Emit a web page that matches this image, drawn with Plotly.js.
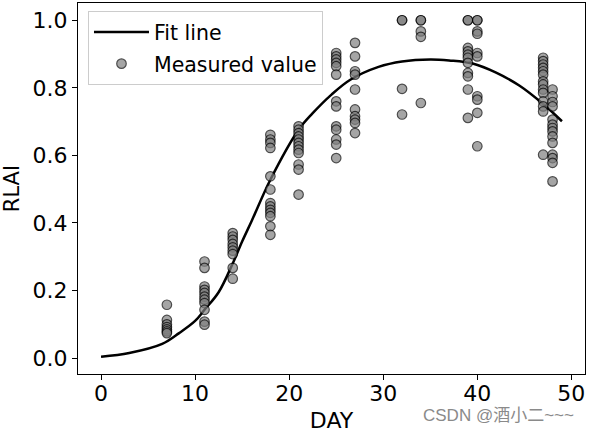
<!DOCTYPE html>
<html>
<head>
<meta charset="utf-8">
<script src="https://cdn.plot.ly/plotly-3.0.1.min.js"></script>
<style>html,body{margin:0;padding:0;background:#fff;}#chart{width:589px;height:433px;}</style>
</head>
<body>
<div id="chart"></div>
<script>
// Fit line
const fitDay  = [0, 3, 6.5, 8.3, 10, 11, 12.5, 14, 15, 16, 18, 21, 22.5, 24.5, 26.5, 29.5, 32, 35, 37, 39.5, 42, 44.5, 47, 49];
const fitRLAI = [0.004, 0.015, 0.042, 0.074, 0.11, 0.143, 0.195, 0.28, 0.345, 0.405, 0.528, 0.676, 0.725, 0.78, 0.824, 0.862, 0.878, 0.884, 0.881, 0.872, 0.845, 0.806, 0.752, 0.701];

// Measured values per day
const measuredDays = [7, 11, 14, 18, 21, 25, 27, 32, 34, 39, 40, 47, 48];
const day7  = [0.158, 0.113, 0.100, 0.092, 0.085, 0.079, 0.074];
const day11 = [0.286, 0.267, 0.212, 0.202, 0.193, 0.182, 0.173, 0.163, 0.143, 0.108, 0.099];
const day14 = [0.370, 0.360, 0.350, 0.338, 0.328, 0.318, 0.308, 0.267, 0.235];
const day18 = [0.661, 0.647, 0.637, 0.622, 0.538, 0.499, 0.459, 0.449, 0.439, 0.430, 0.420, 0.390, 0.365];
const day21 = [0.686, 0.676, 0.666, 0.656, 0.647, 0.637, 0.627, 0.617, 0.607, 0.573, 0.558, 0.484];
const day25 = [0.903, 0.893, 0.884, 0.874, 0.864, 0.839, 0.760, 0.745, 0.686, 0.676, 0.647, 0.632, 0.592];
const day27 = [0.933, 0.893, 0.849, 0.839, 0.795, 0.736, 0.716, 0.706, 0.696, 0.666];
const day32 = [1.0, 1.0, 0.797, 0.721];
const day34 = [1.0, 1.0, 0.967, 0.951, 0.755];
const day39 = [1.0, 1.0, 0.918, 0.908, 0.898, 0.889, 0.874, 0.844, 0.834, 0.795, 0.711];
const day40 = [1.0, 1.0, 0.967, 0.960, 0.903, 0.893, 0.775, 0.765, 0.726, 0.627];
const day47 = [0.889, 0.879, 0.869, 0.859, 0.849, 0.839, 0.819, 0.810, 0.795, 0.785, 0.760, 0.745, 0.730, 0.602];
const day48 = [0.795, 0.775, 0.758, 0.745, 0.706, 0.691, 0.681, 0.671, 0.656, 0.637, 0.602, 0.592, 0.578, 0.523];
const measuredByDay = [day7, day11, day14, day18, day21, day25, day27, day32, day34, day39, day40, day47, day48];

const xTicks = [0, 10, 20, 30, 40, 50];
const yTicks = [0.0, 0.2, 0.4, 0.6, 0.8, 1.0];
const yTickText = ['0.0', '0.2', '0.4', '0.6', '0.8', '1.0'];

const mx = [], my = [];
measuredDays.forEach((d, i) => {
  measuredByDay[i].forEach(v => { mx.push(d); my.push(v); });
});

const FONT = 'DejaVu Sans, Liberation Sans, sans-serif';

const traces = [
  {
    x: fitDay, y: fitRLAI, type: 'scatter', mode: 'lines', name: 'Fit line',
    line: {color: '#000', width: 2.5, shape: 'spline', smoothing: 1},
    legendgroup: 'a'
  },
  {
    x: mx, y: my, type: 'scatter', mode: 'markers', name: 'Measured value',
    marker: {size: 9.5, color: 'rgb(128,128,128)', opacity: 0.7, line: {color: '#000', width: 1.2}},
    legendgroup: 'b'
  }
];

const layout = {
  width: 589, height: 433,
  margin: {l: 78, r: 4, t: 3, b: 59},
  paper_bgcolor: '#fff', plot_bgcolor: '#fff',
  font: {family: FONT, size: 22, color: '#000'},
  showlegend: true,
  legend: {
    x: 0.0197, y: 0.978, xanchor: 'left', yanchor: 'top',
    bgcolor: '#fff', bordercolor: '#cccccc', borderwidth: 1,
    font: {family: FONT, size: 20.5, color: '#000'},
    traceorder: 'grouped', tracegroupgap: 2, itemwidth: 55
  },
  xaxis: {
    range: [-2.45, 51.45], tickvals: xTicks, ticks: 'outside', ticklen: 5, tickwidth: 1, tickcolor: '#000',
    showline: true, mirror: true, linecolor: '#000', linewidth: 1, showgrid: false, zeroline: false,
    tickfont: {family: FONT, size: 22, color: '#000'}, ticklabelstandoff: -5,
    title: {text: 'DAY', font: {family: FONT, size: 22, color: '#000'}, standoff: 8}
  },
  yaxis: {
    range: [-0.047, 1.051], tickvals: yTicks, ticktext: yTickText, ticks: 'outside', ticklen: 5, tickwidth: 1, tickcolor: '#000',
    showline: true, mirror: true, linecolor: '#000', linewidth: 1, showgrid: false, zeroline: false,
    tickfont: {family: FONT, size: 22, color: '#000'},
    title: {text: 'RLAI', font: {family: FONT, size: 21, color: '#000'}, standoff: 8}
  },
  annotations: [{
    text: 'CSDN @酒小二~~~', xref: 'paper', yref: 'paper', x: 0.829, y: -0.112,
    xanchor: 'center', yanchor: 'middle', showarrow: false,
    font: {family: 'Liberation Sans, Noto Sans CJK SC, sans-serif', size: 17, color: '#8a8a8a'}
  }]
};

Plotly.newPlot('chart', traces, layout, {displayModeBar: false, staticPlot: true});
</script>
</body>
</html>
